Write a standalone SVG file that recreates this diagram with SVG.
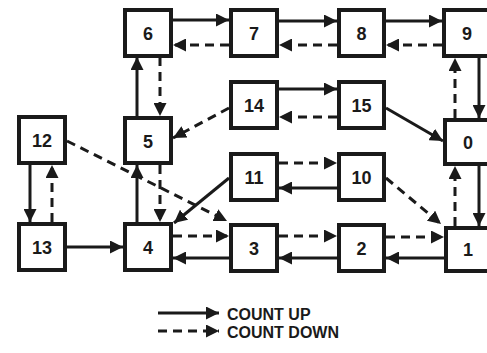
<svg xmlns="http://www.w3.org/2000/svg" width="487" height="353" viewBox="0 0 487 353">
<defs>
<marker id="ah" markerUnits="userSpaceOnUse" markerWidth="14" markerHeight="13" refX="13" refY="6.5" orient="auto">
<path d="M0,0 L13,6.5 L0,13 z" fill="#1a1a1a"/>
</marker>
<style>
.box rect{fill:#fff;stroke:#1a1a1a;stroke-width:4}
.box text{font-family:"Liberation Sans",Arial,sans-serif;font-weight:bold;font-size:18px;fill:#1a1a1a;text-anchor:middle}
.c line{stroke:#1a1a1a;stroke-width:3;fill:none;marker-end:url(#ah)}
.c .d{stroke-dasharray:9 6}
.lg{font-family:"Liberation Sans",Arial,sans-serif;font-weight:bold;font-size:16px;fill:#1a1a1a}
</style>
</defs>
<rect width="487" height="353" fill="#fff"/>
<g class="c" id="connectors">
<line x1="173" y1="20" x2="229" y2="20"/>
<line class="d" x1="229" y1="45" x2="173" y2="45"/>
<line x1="279" y1="21" x2="337" y2="21"/>
<line class="d" x1="337" y1="45" x2="279" y2="45"/>
<line x1="386" y1="21" x2="442" y2="21"/>
<line class="d" x1="442" y1="45" x2="386" y2="45"/>
<line x1="479" y1="58" x2="479" y2="118"/>
<line class="d" x1="455" y1="118" x2="455" y2="58"/>
<line x1="479" y1="166" x2="479" y2="226"/>
<line class="d" x1="455" y1="226" x2="455" y2="166"/>
<line x1="444" y1="258" x2="386" y2="258"/>
<line class="d" x1="386" y1="237" x2="444" y2="237"/>
<line x1="337" y1="258" x2="279" y2="258"/>
<line class="d" x1="279" y1="236" x2="337" y2="236"/>
<line x1="229" y1="258" x2="173" y2="258"/>
<line class="d" x1="173" y1="236" x2="229" y2="236"/>
<line x1="67" y1="247" x2="123" y2="247"/>
<line x1="30" y1="165" x2="30" y2="222"/>
<line class="d" x1="52" y1="222" x2="52" y2="165"/>
<line x1="137" y1="222" x2="137" y2="165"/>
<line class="d" x1="160" y1="165" x2="160" y2="222"/>
<line x1="137" y1="116" x2="137" y2="57"/>
<line class="d" x1="160" y1="57" x2="160" y2="116"/>
<line class="d" x1="229" y1="108" x2="173" y2="138"/>
<line x1="279" y1="89" x2="337" y2="89"/>
<line class="d" x1="337" y1="117" x2="279" y2="117"/>
<line x1="386" y1="108" x2="443" y2="141"/>
<line class="d" x1="279" y1="163" x2="337" y2="163"/>
<line x1="337" y1="188" x2="279" y2="188"/>
<line class="d" x1="386" y1="178" x2="441" y2="224"/>
<line x1="229" y1="178" x2="174" y2="223"/>
<line class="d" x1="67" y1="141" x2="227" y2="221"/>
<line x1="158" y1="313" x2="219" y2="313"/>
<line class="d" x1="158" y1="331" x2="219" y2="331"/>
</g>
<g class="box" id="n6"><rect x="125" y="10" width="46" height="46"/><text x="148" y="39.5">6</text></g>
<g class="box" id="n7"><rect x="231" y="10" width="46" height="46"/><text x="254" y="39.5">7</text></g>
<g class="box" id="n8"><rect x="339" y="10" width="45" height="46"/><text x="361.5" y="39.5">8</text></g>
<g class="box" id="n9"><rect x="444" y="10" width="46" height="46"/><text x="467" y="39.5">9</text></g>
<g class="box" id="n14"><rect x="231" y="82" width="46" height="46"/><text x="254" y="111.5">14</text></g>
<g class="box" id="n15"><rect x="339" y="82" width="45" height="46"/><text x="361.5" y="111.5">15</text></g>
<g class="box" id="n12"><rect x="19" y="117" width="46" height="46"/><text x="42" y="146.5">12</text></g>
<g class="box" id="n5"><rect x="125" y="118" width="46" height="45"/><text x="148" y="147.5">5</text></g>
<g class="box" id="n0"><rect x="445" y="120" width="46" height="44"/><text x="468" y="148.5">0</text></g>
<g class="box" id="n11"><rect x="231" y="154" width="46" height="46"/><text x="254" y="183.5">11</text></g>
<g class="box" id="n10"><rect x="339" y="154" width="45" height="46"/><text x="361.5" y="183.5">10</text></g>
<g class="box" id="n13"><rect x="19" y="224" width="46" height="46"/><text x="42" y="253.5">13</text></g>
<g class="box" id="n4"><rect x="125" y="224" width="46" height="46"/><text x="148" y="253.5">4</text></g>
<g class="box" id="n3"><rect x="231" y="225" width="46" height="46"/><text x="254" y="254.5">3</text></g>
<g class="box" id="n2"><rect x="339" y="225" width="45" height="46"/><text x="361.5" y="254.5">2</text></g>
<g class="box" id="n1"><rect x="446" y="228" width="46" height="43"/><text x="468" y="255.5">1</text></g>
<g id="legend">
<text class="lg" x="227" y="320">COUNT UP</text>
<text class="lg" x="227" y="338">COUNT DOWN</text>
</g>
</svg>
